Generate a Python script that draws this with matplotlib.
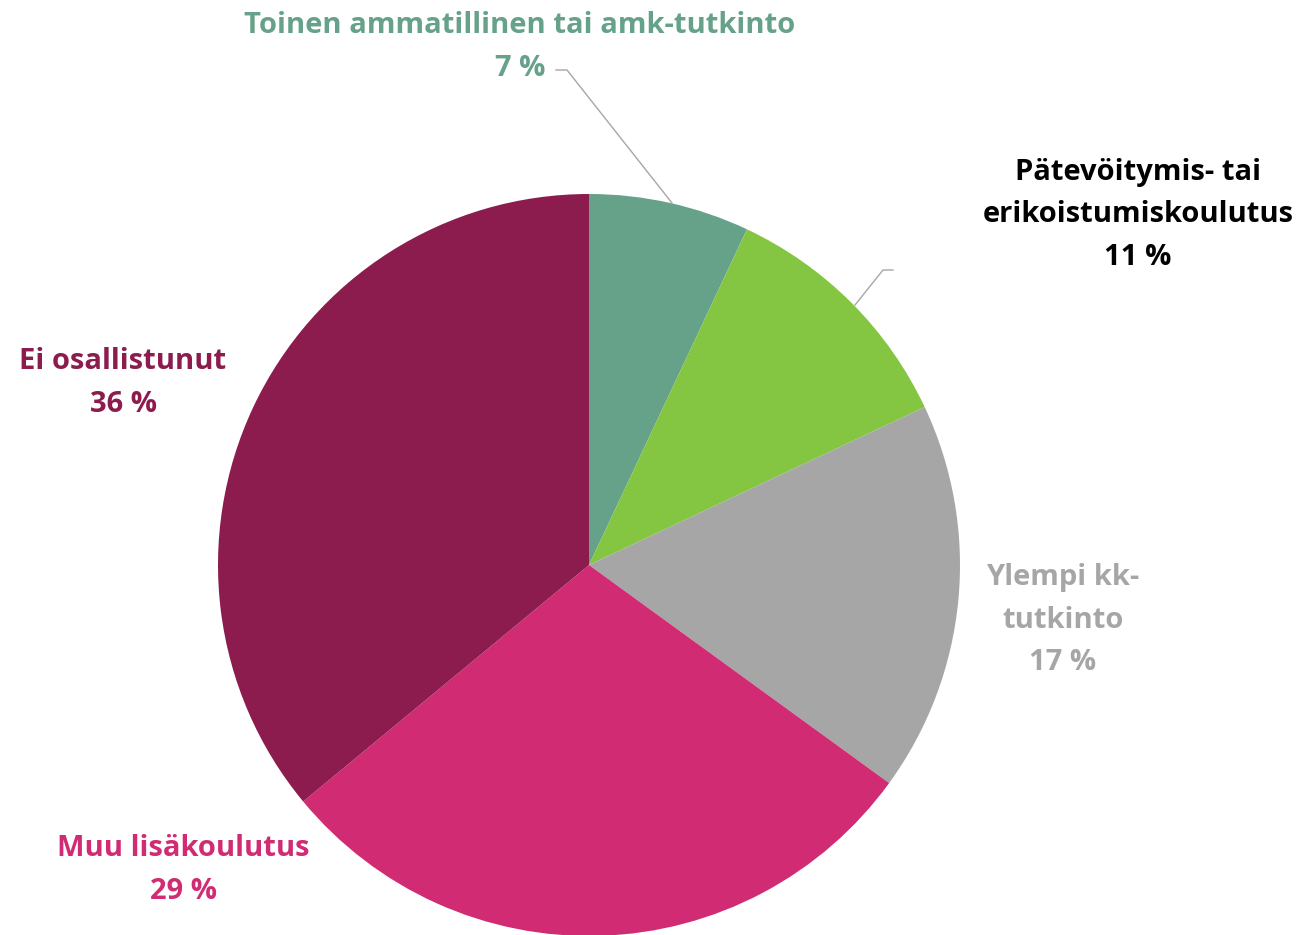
import matplotlib
matplotlib.use("Agg")
import matplotlib.pyplot as plt

plt.rcParams['font.family'] = ['Open Sans', 'DejaVu Sans']

# data
labels = ["Toinen ammatillinen tai amk-tutkinto",
          "Pätevöitymis- tai\nerikoistumiskoulutus",
          "Ylempi kk-\ntutkinto",
          "Muu lisäkoulutus",
          "Ei osallistunut"]
values = [7, 11, 17, 29, 36]
colors = ["#66A18A", "#84C641", "#A6A6A6", "#D02B73", "#8B1C4D"]
text_colors = ["#66A18A", "#000000", "#A6A6A6", "#D02B73", "#8B1C4D"]

W, H = 1297, 935
fig = plt.figure(figsize=(W / 100, H / 100), dpi=100)
ax = fig.add_axes([0, 0, 1, 1])

cx, cy, r = 589, H - 565, 371
ax.pie(values, colors=colors, startangle=90, counterclock=False,
       center=(cx, cy), radius=r, frame=True,
       wedgeprops=dict(linewidth=0))
ax.set_xlim(0, W)
ax.set_ylim(0, H)
ax.set_aspect('equal')
ax.axis('off')

# label positions in pixel coords (x, y from top)
label_pos = [(520, 47), (1138, 215), (1063, 620), (183, 870), (123, 383)]
for lab, v, c, (x, y) in zip(labels, values, text_colors, label_pos):
    ax.text(x, H - y, f"{lab}\n{v} %", ha='center', va='center',
            fontsize=21, fontweight='bold', color=c, linespacing=1.62)

# leader lines
lc = "#A6A6A6"
ax.plot([556, 567, 672], [H - 70, H - 70, H - 203], color=lc, lw=1)
ax.plot([893, 883, 855], [H - 270, H - 270, H - 305], color=lc, lw=1)

fig.savefig("out.png", dpi=100)
